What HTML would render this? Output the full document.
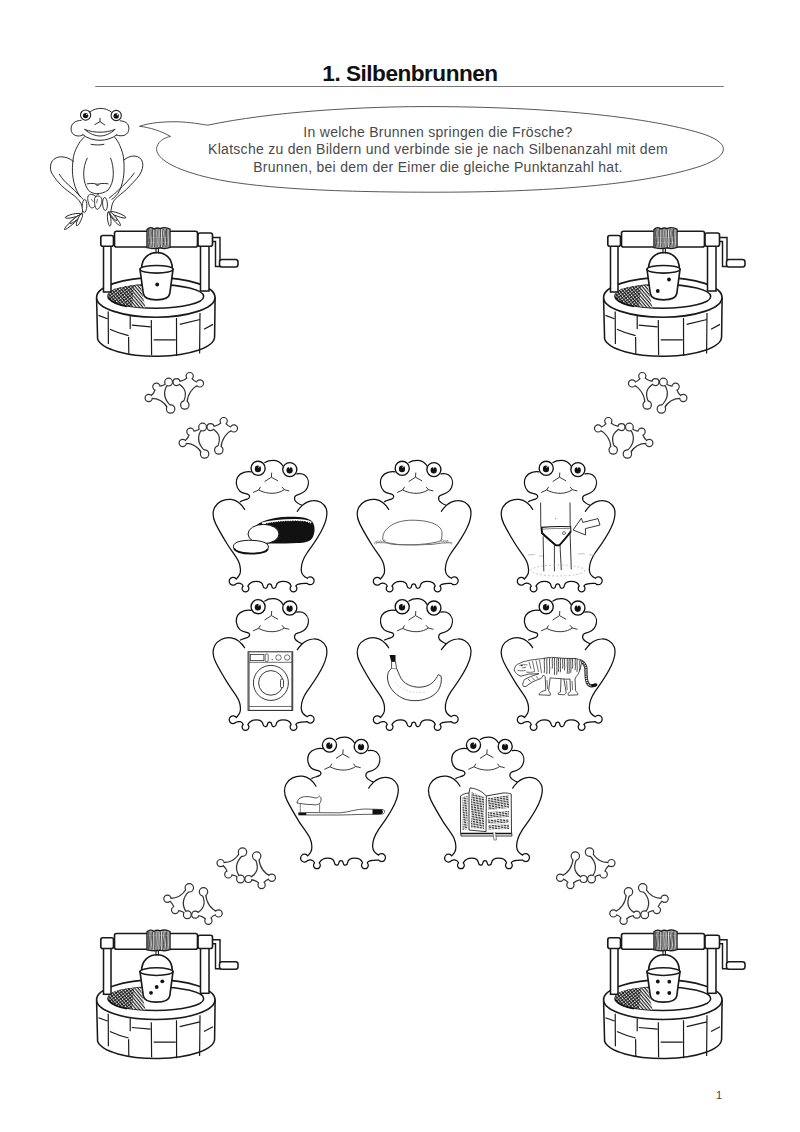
<!DOCTYPE html>
<html><head><meta charset="utf-8"><title>1. Silbenbrunnen</title>
<style>
html,body{margin:0;padding:0;background:#fff;}
body{width:800px;height:1132px;position:relative;overflow:hidden;font-family:"Liberation Sans",sans-serif;}
.t{position:absolute;white-space:nowrap;}
#title{left:0;width:820px;text-align:center;top:60.5px;font-weight:bold;font-size:22.6px;letter-spacing:-0.5px;color:#111;}
.bt{left:0;width:876px;text-align:center;font-size:14px;letter-spacing:0.28px;color:#4a4a4a;}
#pg{left:716px;top:1088.5px;font-size:11px;color:#444;}
svg{position:absolute;left:0;top:0;}
</style></head><body>
<svg width="800" height="1132" viewBox="0 0 800 1132">
<defs>
<pattern id="hatch" width="2.5" height="2.5" patternUnits="userSpaceOnUse" patternTransform="rotate(50)">
<rect width="2.5" height="2.5" fill="#fff"/><path d="M0,0.6 L2.5,0.6" stroke="#111" stroke-width="1.1"/></pattern>
<pattern id="hatch2" width="2.5" height="2.5" patternUnits="userSpaceOnUse" patternTransform="rotate(-38)">
<path d="M0,0.6 L2.5,0.6" stroke="#111" stroke-width="1.0"/></pattern>
<pattern id="txt" width="3" height="1.7" patternUnits="userSpaceOnUse" patternTransform="rotate(-8)"><rect width="3" height="1.7" fill="#fff"/><path d="M0,0.5 L2.3,0.5" stroke="#333" stroke-width="1.05"/></pattern>

<g id="well">
<path d="M96.6,299 L97.6,339 A58.7,19.5 0 0 0 214.6,337 L215.1,298 Z" fill="#fff" stroke="#1a1a1a" stroke-width="1.55"/>
<ellipse cx="155.8" cy="297.4" rx="59.2" ry="19.8" fill="#fff" stroke="#1a1a1a" stroke-width="1.65"/>
<ellipse cx="155.8" cy="296.4" rx="47.9" ry="11.8" fill="#fff" stroke="#1a1a1a" stroke-width="1.55"/>
<path d="M108.5,296 C108,290 118,286 140.5,285.2 L145.5,307.6 C128,307 110,303 108.5,296 Z" fill="url(#hatch)"/>
<path d="M108.5,296 C108,290 118,286 134,285.6 L132,306.6 C120,305 110,302 108.5,296 Z" fill="url(#hatch2)"/>
<path d="M109,297.5 C111,302 118,305 127,306.5" stroke="#111" stroke-width="1.6" fill="none"/>
<path d="M108.2,311.4 L108.4,343.9 M130.2,316 L130.2,329 M128.6,337 L128.8,353.6 M151.3,320 L151.6,355 M176.5,318 L176.6,356 M200,313 L199.6,353.6 M98.5,315.4 L107.4,318.7 M109.9,329.2 Q118,333 128.6,335.7 M131.8,325.2 L150.5,326.8 M153.7,339.8 L175.7,339.8 M179.7,324.4 L200,319.5 M204,329.2 L213,324.4" fill="none" stroke="#1a1a1a" stroke-width="1.2"/>
<rect x="103.5" y="244" width="7.5" height="48" fill="#fff" stroke="#1a1a1a" stroke-width="1.55"/>
<rect x="200.5" y="244" width="8.5" height="47" fill="#fff" stroke="#1a1a1a" stroke-width="1.55"/>
<path d="M212,237.5 L220,237.5 L220,266.5 L215.5,266.5 L215.5,241.5 L212,241.5" fill="#fff" stroke="#1a1a1a" stroke-width="1.45"/>
<rect x="219.5" y="259.5" width="18.5" height="7.5" rx="2.5" fill="#fff" stroke="#1a1a1a" stroke-width="1.55"/>
<rect x="114.5" y="231.2" width="83" height="15.8" rx="2" fill="#fff" stroke="#1a1a1a" stroke-width="1.65"/>
<rect x="100.8" y="235.5" width="12.7" height="10.7" rx="2" fill="#fff" stroke="#1a1a1a" stroke-width="1.65"/>
<rect x="198" y="233" width="14.5" height="13.2" rx="2" fill="#fff" stroke="#1a1a1a" stroke-width="1.65"/>
<path d="M147,229.5 C149,227.6 152,227.6 154,229 C156,227.8 158,227.6 160,228.6 C163,227.4 167,227.6 170,229.2 L170,247.4 C167,248.6 163,248.6 160,247.8 C157,248.8 152,248.6 147,247.6 Z" fill="#fff" stroke="#1a1a1a" stroke-width="1.4"/>
<path d="M148.3,229 C148.92,234 147.68,241 148.6,247.6 M149.69,229 C150.83,234 148.55,241 149.99,247.6 M151.03,229 C151.99,234 150.08,241 151.33,247.6 M152.55,229 C152.75,234 152.36,241 152.85,247.6 M154.16,229 C154.32,234 154,241 154.46,247.6 M155.72,229 C155.93,234 155.51,241 156.02,247.6 M157.07,229 C157.85,234 156.29,241 157.37,247.6 M158.87,229 C159.17,234 158.57,241 159.17,247.6 M160.3,229 C161.41,234 159.2,241 160.6,247.6 M162.17,229 C163.19,234 161.15,241 162.47,247.6 M163.71,229 C165.37,234 162.05,241 164.01,247.6 M165.04,229 C166.51,234 163.56,241 165.34,247.6 M166.51,229 C166.84,234 166.18,241 166.81,247.6 M167.88,229 C168.48,234 167.29,241 168.18,247.6" stroke="#222" stroke-width="0.85" fill="none"/>
<path d="M156,247.5 L156,253.5 M158.4,247.5 L158.4,253.5" stroke="#1a1a1a" stroke-width="1.1"/>
<path d="M141.6,268.5 C141.6,258 149,252.5 157,252.5 C165,252.5 172.3,258 172.3,268.5" fill="none" stroke="#1a1a1a" stroke-width="1.65"/>
<path d="M140,269.3 L143.3,293.5 C144,297.8 148.5,299.8 156.5,299.8 C164.5,299.8 169,297.8 169.8,293.5 L173,269.3 Z" fill="#fff" stroke="#1a1a1a" stroke-width="1.65"/>
<ellipse cx="156.5" cy="269.3" rx="16.5" ry="3.8" fill="#fff" stroke="#1a1a1a" stroke-width="1.55"/>
</g>
<g id="fp">
<path d="M-2.41,-1.21 C-6.81,-8.64 -13.31,-11.91 -21.9,-11 C-17.35,-13.42 -14.78,-17.18 -14.2,-22.3 C-9.29,-21.59 -5.22,-23.12 -2,-26.9 C-8.71,-18.29 -8.11,-10.22 -0.2,-2.69 L0,0 Z" fill="none" stroke="#333" stroke-width="2.4"/>
<circle cx="0" cy="0" r="3.6" fill="none" stroke="#333" stroke-width="2.4"/>
<circle cx="-21.9" cy="-11" r="3" fill="none" stroke="#333" stroke-width="2.4"/>
<circle cx="-14.2" cy="-22.3" r="3" fill="none" stroke="#333" stroke-width="2.4"/>
<circle cx="-2" cy="-26.9" r="3.3" fill="none" stroke="#333" stroke-width="2.4"/>
<path d="M-2.41,-1.21 C-6.81,-8.64 -13.31,-11.91 -21.9,-11 C-17.35,-13.42 -14.78,-17.18 -14.2,-22.3 C-9.29,-21.59 -5.22,-23.12 -2,-26.9 C-8.71,-18.29 -8.11,-10.22 -0.2,-2.69 L0,0 Z" fill="#fff" stroke="none"/>
<circle cx="0" cy="0" r="3.6" fill="#fff" stroke="none"/>
<circle cx="-21.9" cy="-11" r="3" fill="#fff" stroke="none"/>
<circle cx="-14.2" cy="-22.3" r="3" fill="#fff" stroke="none"/>
<circle cx="-2" cy="-26.9" r="3.3" fill="#fff" stroke="none"/>
<path d="M15.75,-6.21 C16.44,-15.35 20.96,-21.81 29.3,-25.6 C24.5,-26.08 21.1,-28.52 19.1,-32.9 C15.69,-28.72 11.29,-26.72 5.9,-26.9 C15.25,-22.61 17.71,-15.82 13.28,-6.54 L14.2,-4 Z" fill="none" stroke="#333" stroke-width="2.4"/>
<circle cx="14.2" cy="-4" r="3.6" fill="none" stroke="#333" stroke-width="2.4"/>
<circle cx="29.3" cy="-25.6" r="3" fill="none" stroke="#333" stroke-width="2.4"/>
<circle cx="19.1" cy="-32.9" r="3" fill="none" stroke="#333" stroke-width="2.4"/>
<circle cx="5.9" cy="-26.9" r="2.9" fill="none" stroke="#333" stroke-width="2.4"/>
<path d="M15.75,-6.21 C16.44,-15.35 20.96,-21.81 29.3,-25.6 C24.5,-26.08 21.1,-28.52 19.1,-32.9 C15.69,-28.72 11.29,-26.72 5.9,-26.9 C15.25,-22.61 17.71,-15.82 13.28,-6.54 L14.2,-4 Z" fill="#fff" stroke="none"/>
<circle cx="14.2" cy="-4" r="3.6" fill="#fff" stroke="none"/>
<circle cx="29.3" cy="-25.6" r="3" fill="#fff" stroke="none"/>
<circle cx="19.1" cy="-32.9" r="3" fill="#fff" stroke="none"/>
<circle cx="5.9" cy="-26.9" r="2.9" fill="#fff" stroke="none"/>
</g>
<g id="frog">
<path d="M251.1,471.9 C247,471.2 240.5,472.4 237.8,476.8 C235.3,481 236,487.6 239.9,491.2 C242.6,493.6 246.6,493.5 248.6,494.7 C250.4,496 249.4,498.4 247.4,499.1 C245.5,499.9 242.4,500.4 240.5,501.6 M244.6,509.4 C242,505 238,500.4 231,499.4 C224,498.6 217.4,502 214.6,507.4 C212.4,512 212.8,518 215.6,523.6 C219.5,531.5 223.5,538 227.5,544.5 C231.5,551 236,556 238.6,561.5 C240.8,566.5 240.9,572.3 239.6,574.6 C238.8,576.4 237.8,577.6 236.29,579.06 A3.9,3.9 0 1 0 236.09,583.81 C238.5,582.5 242.2,583 243.17,586.07 A3.4,3.4 0 1 0 247.83,586.07 C249.5,583.2 252.5,581.4 256.4,581.4 C260.4,581.4 262.6,583.5 263,585.8 C263.2,588.6 267,589.4 267.4,586.2 C267.6,584.8 268.3,583.8 269.6,583.8 C270.9,583.8 271.6,584.8 271.8,586.2 C272.2,589.4 276,588.6 276.2,585.8 C276.6,583.5 279.2,581.4 283.2,581.4 C287.2,581.4 290,582.5 291.17,586.07 A3.4,3.4 0 1 0 295.83,586.07 C297,583 303,583.5 307.21,583.31 A3.9,3.9 0 1 0 307.21,578.29 C303.8,576.6 301.6,574.5 301.3,570.5 C300.9,565 303.2,558.6 307,553 C312,546 318.5,537.5 323.2,527.2 C326.5,520 327.8,513.5 326.2,508.5 C323.8,503 318.5,500 313.2,500.6 C308.2,501 304.6,503.2 302,505.6 C299.6,508 298.4,509.6 297.3,511.3 M302,505.3 C299,504 296.2,502.6 294.9,500.2 C293.8,497.4 295.2,495.4 297.6,494.8 C301.5,493.8 305.6,491.8 307.4,487.6 C309.4,482.6 308.2,477.6 304.6,475 C302.4,473.4 299.6,473.4 296.8,473.8 M264.9,462.6 C267.5,460.6 271,460.2 274,460.3 C278,460.6 281,462.7 283,466 " fill="none" stroke="#111" stroke-width="1.25" stroke-linecap="round"/>
<circle cx="258.1" cy="468.3" r="7.05" fill="#fff" stroke="#111" stroke-width="1.35"/>
<ellipse cx="257.9" cy="468.9" rx="3.1" ry="3.3" fill="#111"/>
<path d="M258.4,465.4 q0.9,1.4 -0.3,2.6 q1.6,-0.2 1.9,-2.4 z" fill="#fff"/>
<circle cx="289.8" cy="469.6" r="7.05" fill="#fff" stroke="#111" stroke-width="1.35"/>
<ellipse cx="289.6" cy="470.2" rx="3.1" ry="3.3" fill="#111"/>
<path d="M288.7,466.7 l0.9,2.2 l0.9,-2.2 z" fill="#fff"/>
<path d="M271.7,472.6 L271.4,477.1 M264.6,481.6 L271.4,477.2 L278,480.9" fill="none" stroke="#222" stroke-width="0.9"/>
<path d="M253,492.5 L258.6,490 M260.5,486.9 L258.6,490 C263,492.4 268,493.4 273,493.3 C277.5,493.1 281,491.8 284.3,489.7 L282,486.9 M284.3,489.7 L289.3,490.9" fill="none" stroke="#222" stroke-width="0.9"/>
</g>
</defs>
<rect x="95.2" y="86" width="628.6" height="1" fill="#777"/>
<path d="M139.5,126.3 C150,122.6 165,121.5 178,121.8 C190,122.2 200,124 207.6,125.2 C270,112 360,106 440,106.6 C560,107.5 650,118 700,133 C730,142 732,155 701,166 C650,183 560,192 440,192.2 C330,192.4 240,188 195,174 C166,165.5 154,155 157,146.5 C159,140.5 165,137.6 170.5,136.4 C161,131 150,127.5 139.5,126.3 Z" fill="#fff" stroke="#444" stroke-width="0.9"/>
<g id="bigfrog"><path d="M73.2,161.2 C70,158.5 66,157 61.5,156.8 C56.5,156.8 52.5,159.2 51,163.5 C49.8,167.5 50.5,171.5 52.6,174.5 C55.5,179 58,182.2 61.5,185.5 C65.5,189.5 70,192.5 74.5,196 C78.2,199 81,202.5 82.2,206.5 C83,209.5 82.5,212 81.8,214 M59.4,174.4 C62,178.5 65,182 68.6,184.9 C72.5,188.5 77,192.5 80.4,196.7 M123.8,160 C127,157.5 130.5,156 134.2,156 C138.5,156.2 141.6,158.5 142.6,162.5 C143.4,166.5 142,171 139.5,175 C136.5,179.5 131,184.5 126.4,189.5 C122,193.5 118,196 115.9,198.5 C113.5,201 112.2,203.5 111.8,206 C111.2,209 110.8,211.5 110.6,213.8 M134.2,173.1 C130,179 124,185 118.5,190.1 C115,193.5 111.5,196 109.3,198 " fill="none" stroke="#222" stroke-width="0.95" stroke-linecap="round" stroke-linejoin="round"/>
<path d="M84.4,137 C81,140 79,143 77.8,145.5 C75,150.5 73.4,155 73,160 C72.4,166 72.2,170 72.6,174.4 C73.2,180.5 74.5,185.5 76.5,190.1 C78.5,194.5 80.6,197.2 83.1,199.3 M114.6,137 C117,140 118.6,142.5 119.8,145.5 C122,150.5 123.4,155 123.8,160 C124.2,166 124.2,170 123.8,174.4 C123.2,180.5 121.8,185.5 119.8,190.1 C117.6,194.5 114.8,197.5 111.9,199.3 M87.2,158.2 C85,162.5 83.6,168 83.7,174.4 C83.8,181 85.5,186.5 88.3,190.1 C90.5,192.5 93.5,193.6 96.5,193.7 C100.5,193.8 105,192.5 108,190.1 C111,186.5 113.2,181 113.3,174.4 C113.4,168 112.4,162.5 110.6,158.2 M87.2,183.8 C92,183 95,183.6 97.4,184.3 C100,183.6 103,183 108,183.8 M95.8,184.6 C96.5,186 98.4,186 99.2,184.6 M91,144.3 C95,145.2 100,145.2 104,144.3 " fill="none" stroke="#222" stroke-width="0.95" stroke-linecap="round" stroke-linejoin="round"/>
<path d="M90.4,111.6 C93.5,109.3 97.5,108.3 100.9,108.4 C104.8,108.5 108.6,109.8 111.4,112 M81.2,120.3 C78.5,120.3 75.8,121.2 73.5,123 C71.2,125 70.6,128.2 71.4,131.4 C72.4,134.3 75,135.8 78,136 C80,136.1 81.8,135.5 83,134.8 M120.1,120.8 C123,120.9 125.8,121.8 127.6,124 C129.3,126.3 129.3,130 127.8,132.6 C126.4,134.8 123.8,135.8 121,135.8 C119,135.7 117.6,135.4 116.6,135 M82.8,134.6 C87,138.3 93.5,140.3 100,140.3 C106,140.3 112.5,138.3 116.8,134.8 M84.6,129.4 C90,131.5 95,132.2 100,132.2 C105,132.2 110,131.5 115,129.4 M85.6,130.2 C89.5,133.5 95,136 100,136 C105,136 110.5,133.5 114.2,130.2 M100,118.3 L100,121.3 M94.8,124.6 L100,121.6 L104.8,125 " fill="none" stroke="#222" stroke-width="0.95" stroke-linecap="round" stroke-linejoin="round"/>
<circle cx="85.6" cy="115.1" r="5.1" fill="#fff" stroke="#222" stroke-width="1.1"/>
<circle cx="85.6" cy="115.6" r="2.7" fill="#111"/>
<circle cx="86.8" cy="114.39999999999999" r="0.7" fill="#fff"/>
<circle cx="116.2" cy="115.5" r="5.1" fill="#fff" stroke="#222" stroke-width="1.1"/>
<circle cx="116.2" cy="116.0" r="2.7" fill="#111"/>
<circle cx="117.4" cy="114.8" r="0.7" fill="#fff"/>
<ellipse cx="84.50" cy="206.00" rx="6.51" ry="2.30" transform="rotate(92.6 84.50 206.00)" fill="#fff" stroke="#222" stroke-width="0.9"/>
<ellipse cx="105.00" cy="204.00" rx="6.51" ry="2.40" transform="rotate(86.5 105.00 204.00)" fill="#fff" stroke="#222" stroke-width="0.9"/>
<path d="M88,196 C89.5,193.5 94,194 96,197 C97.5,199.5 96.5,204 94.5,206.5 C93,208.5 90.5,208.3 89.5,206 C88.5,203.5 87,199 88,196 Z" fill="#fff" stroke="#222" stroke-width="0.9"/>
<path d="M94.5,198.5 C95.5,196 98.5,195.2 100.6,197 C102.6,198.8 102,203 100.5,206 C99.2,208.6 97.6,210 96.4,209 C95,207.6 94.6,204 94.6,201.5 Z" fill="#fff" stroke="#222" stroke-width="0.9"/>
<path d="M95.5,197.2 C95.8,194.8 97.5,193.8 99,194.6 M91,199 L93.5,202 M97.5,199 L96.5,203" fill="none" stroke="#333" stroke-width="0.7"/>
<ellipse cx="73.25" cy="221.50" rx="11.86" ry="1.65" transform="rotate(137.6 73.25 221.50)" fill="#fff" stroke="#222" stroke-width="0.9"/>
<ellipse cx="72.90" cy="215.80" rx="7.81" ry="1.65" transform="rotate(166.7 72.90 215.80)" fill="#fff" stroke="#222" stroke-width="0.9"/>
<ellipse cx="75.75" cy="219.00" rx="7.30" ry="1.30" transform="rotate(142.0 75.75 219.00)" fill="#fff" stroke="#222" stroke-width="0.9"/>
<ellipse cx="79.40" cy="219.75" rx="6.31" ry="1.65" transform="rotate(114.3 79.40 219.75)" fill="#fff" stroke="#222" stroke-width="0.9"/>
<ellipse cx="109.20" cy="218.85" rx="7.39" ry="1.65" transform="rotate(83.8 109.20 218.85)" fill="#fff" stroke="#222" stroke-width="0.9"/>
<ellipse cx="114.70" cy="218.75" rx="8.83" ry="1.65" transform="rotate(49.8 114.70 218.75)" fill="#fff" stroke="#222" stroke-width="0.9"/>
<ellipse cx="118.15" cy="214.80" rx="8.15" ry="1.65" transform="rotate(20.1 118.15 214.80)" fill="#fff" stroke="#222" stroke-width="0.9"/>
<ellipse cx="113.40" cy="216.35" rx="5.49" ry="1.20" transform="rotate(49.1 113.40 216.35)" fill="#fff" stroke="#222" stroke-width="0.9"/></g>
<use href="#well" transform="translate(0,0)"/>
<use href="#well" transform="translate(507,0)"/>
<use href="#well" transform="translate(0,702.3)"/>
<use href="#well" transform="translate(507,702.3)"/>
<circle cx="157.2" cy="284.5" r="1.9" fill="#111"/>
<circle cx="669" cy="279.5" r="1.9" fill="#111"/>
<circle cx="657.8" cy="291" r="1.9" fill="#111"/>
<circle cx="162.3" cy="981.3" r="1.9" fill="#111"/>
<circle cx="156.7" cy="987" r="1.9" fill="#111"/>
<circle cx="151" cy="992.8" r="1.9" fill="#111"/>
<circle cx="657.8" cy="981.5" r="1.9" fill="#111"/>
<circle cx="669.3" cy="981.7" r="1.9" fill="#111"/>
<circle cx="657.8" cy="992.8" r="1.9" fill="#111"/>
<circle cx="669.3" cy="993" r="1.9" fill="#111"/>
<use href="#fp" transform="translate(170.6,409)"/>
<use href="#fp" transform="translate(204.6,454)"/>
<use href="#fp" transform="translate(661.4,409) scale(-1,1)"/>
<use href="#fp" transform="translate(627.4,454) scale(-1,1)"/>
<use href="#fp" transform="translate(242.5,852.1) scale(1,-1)"/>
<use href="#fp" transform="translate(189.3,887.8) scale(1,-1)"/>
<use href="#fp" transform="translate(589.5,852.1) scale(-1,-1)"/>
<use href="#fp" transform="translate(642.7,887.8) scale(-1,-1)"/>
<use href="#frog" transform="translate(0,0)"/>
<use href="#frog" transform="translate(144.1,0)"/>
<use href="#frog" transform="translate(288.1,0)"/>
<use href="#frog" transform="translate(0,138.4)"/>
<use href="#frog" transform="translate(144.1,138.4)"/>
<use href="#frog" transform="translate(288.1,138.4)"/>
<use href="#frog" transform="translate(71.4,276.8)"/>
<use href="#frog" transform="translate(215.4,276.8)"/>
<g>
<path d="M254,528 C259,521 272,517.2 288,516.8 C300,516.6 309,517.5 312.5,522 C315.5,526 315.2,534 312,538.5 C309,542 304,542.8 298,543 C285,543.6 272,543.8 262,543.4 Z" fill="#111"/>
<path d="M262,523.6 C272,520.6 284,520 296,520 C303,520 307.5,520.6 311.2,522.6" stroke="#fff" stroke-width="2.2" fill="none"/>
<path d="M266,524 C276,521.6 286,521.2 296,521.2 C303,521.2 307.5,521.8 311,523.6" stroke="#111" stroke-width="1.2" stroke-dasharray="1.3 1.1" fill="none"/>
<ellipse cx="263.5" cy="534" rx="15.5" ry="9.6" fill="#fff" stroke="#111" stroke-width="1"/>
<path d="M233.4,546.5 C233.4,541 245,540.2 251,540.3 C259,540.5 268.6,542 268.4,547 C268.2,551 262,553.6 251,553.4 C240,553.2 233.4,551 233.4,546.5 Z" fill="#fff" stroke="#111" stroke-width="1"/>
<path d="M234,548.5 C236,552.5 244,553.5 251,553.6 C259,553.7 266,552.6 268,549" stroke="#111" stroke-width="1.8" fill="none"/>
</g>
<path d="M383,540 C381,531 392,520.2 412,520.2 C432,520.2 442,526 442,533 C442,537 441.5,539.5 440.5,541 C430,544.5 410,545.5 395,544.5 C389,544 385,542.5 383,540 Z" fill="#fff" stroke="#555" stroke-width="0.9"/>
<path d="M376.5,542.6 Q390,542.5 398,544.5 Q415,545.6 432,544.4 Q442,542.6 451,542.6" stroke="#666" stroke-width="0.9" fill="none"/>
<g fill="#fff" stroke="#666" stroke-width="0.5"><circle cx="380.43" cy="541.81" r="1.06"/><circle cx="380.59" cy="541.67" r="0.89"/><circle cx="377.22" cy="541.68" r="0.91"/><circle cx="384.52" cy="540.55" r="0.75"/><circle cx="376.09" cy="542.49" r="0.95"/><circle cx="375.5" cy="542.95" r="1.08"/><circle cx="382.85" cy="541.96" r="0.68"/><circle cx="439.18" cy="541.73" r="0.63"/><circle cx="441.28" cy="540.95" r="0.62"/><circle cx="444.57" cy="541.49" r="1.02"/><circle cx="445.23" cy="542.03" r="0.85"/><circle cx="446.95" cy="541.53" r="0.74"/><circle cx="450.97" cy="542.99" r="1.02"/><circle cx="447.49" cy="541.15" r="0.71"/><circle cx="442.47" cy="540.49" r="0.98"/></g>
<path d="M540.6,502.5 L540.8,527.5 M570,502.5 L570.2,528" stroke="#222" stroke-width="0.9" fill="none"/>
<circle cx="555.6" cy="518.8" r="0.5" fill="#444"/>
<path d="M541.4,527.4 Q556,526 570.7,526.8 L570.9,531.5 C567,536.5 563,541.5 559.2,545.4 L556,545.4 C551.5,541.5 546,537 542,533 Z" fill="#fff" stroke="#111" stroke-width="1.1"/>
<path d="M541.5,527.8 L542,533 C546,537 551.5,541.5 556,545.4 L559.2,545.4 C563,541.5 567,536.5 570.9,531.5" stroke="#111" stroke-width="1.9" fill="none"/>
<path d="M541.8,529.2 Q556,528 570.6,528.6" stroke="#333" stroke-width="0.6" fill="none"/>
<circle cx="564" cy="533.1" r="1.5" fill="none" stroke="#333" stroke-width="0.7"/>
<path d="M543.1,536.3 L543.8,571.3 M554.4,545 L554.4,571.3 M560,545 L561.3,570 M570,531.3 L571.3,569.4" stroke="#222" stroke-width="0.9" fill="none"/>
<ellipse cx="558" cy="570.5" rx="27" ry="5.5" fill="none" stroke="#aaa" stroke-width="0.7" stroke-dasharray="2 2"/>
<path d="M528,555 L535,554.5 M539,556 L543,555.8 M578,554 L585,553.6 M589,554.8 L595,555" stroke="#aaa" stroke-width="0.7" fill="none"/>
<path d="M573.1,530 L581.3,518.2 L582.8,522.4 L598,518.6 L600,525 L585.4,528.6 L585.6,535 Z" fill="#fff" stroke="#222" stroke-width="0.9" stroke-linejoin="round"/>
<rect x="248.1" y="651.8" width="44.6" height="58.6" fill="#fff" stroke="#222" stroke-width="1"/>
<path d="M249,662.3 L292,662.3 M249,706.5 L292,706.5 M249.2,652.5 L249.2,710 M291.7,652.5 L291.7,710" stroke="#333" stroke-width="0.7" fill="none"/>
<rect x="250.3" y="654.4" width="13.6" height="6.2" fill="none" stroke="#333" stroke-width="0.8"/>
<rect x="265.2" y="654" width="3" height="7.4" rx="1" fill="none" stroke="#333" stroke-width="0.7"/>
<circle cx="272.2" cy="659.7" r="0.6" fill="#333"/>
<circle cx="278.5" cy="657.5" r="2.7" fill="none" stroke="#333" stroke-width="0.7"/>
<circle cx="287.2" cy="657.5" r="2.7" fill="none" stroke="#333" stroke-width="0.7"/>
<circle cx="270.9" cy="682.9" r="17.5" fill="none" stroke="#222" stroke-width="0.9"/>
<circle cx="270.9" cy="682.9" r="12.3" fill="none" stroke="#222" stroke-width="0.9"/>
<rect x="280.5" y="679" width="3" height="8.7" rx="1.4" fill="#fff" stroke="#222" stroke-width="0.8"/>
<path d="M391.5,668.5 C388.5,670.5 387.3,674 387.5,678 C388,686 393,693.5 403,698.5 C412,702 424,701.5 433,695.5 C439.5,691 442,684 441.2,676.3 L438.3,674.5 C436,679.5 432.5,684 426,686.2 C418,688.6 409,686.6 403.5,681.5 C400,678 399,673.5 396.6,668.5 Z" fill="#fff" stroke="#222" stroke-width="0.9"/>
<path d="M391.6,668.6 L391.6,661.5 L395.5,661.5 L396.5,668.6" fill="#fff" stroke="#222" stroke-width="0.8"/>
<path d="M389.5,655 L395.5,655 L395.5,661.5 L391.2,661.5 Z" fill="#111"/>
<path d="M395,682 C400,690 412,694 425,692" stroke="#bbb" stroke-width="0.7" fill="none" stroke-dasharray="1.5 2"/>
<path d="M580.6,661 C584.5,663 586,666 586,670 C586,674 585.8,679 587.5,683 C589,686 592,686.3 595.2,685" stroke="#222" stroke-width="3.2" fill="none" stroke-linecap="round"/>
<path d="M580.6,661 C584.5,663 586,666 586,670 C586,674 585.8,679 587.5,683 C589,686 592,686.3 595.2,685" stroke="#fff" stroke-width="1.6" fill="none" stroke-dasharray="1 1.1"/>
<path d="M592.6,685.6 L596,684.8" stroke="#111" stroke-width="2.8" stroke-linecap="round"/>
<path d="M563.8,678.4 L566,691.4 C566.5,693 565.5,694.8 563.5,694.8 L558.5,694.4 C557.5,693.4 558.5,692.4 560.5,692 L561,679" fill="#fff" stroke="#222" stroke-width="0.8" stroke-linejoin="round"/>
<path d="M514.8,667.8 C515.5,665.5 517,664.2 518.8,663.8 C521.5,662.2 524,661.4 526.6,661 C529.5,660.2 532,659.8 534.5,659.6 C537,659.2 539,658.9 541.2,658.8 C545,658 548,657.5 551.4,657.4 C555,657.4 559,657.9 562.6,658.2 C567,658.5 571,658.4 575,658.5 C577.5,658.8 579.5,659.5 580.6,660.4 C581.8,661.8 581.8,663 581.2,664.4 C580.6,667 580.3,669 579.5,671.1 C578.6,673.5 577.4,675.4 576.1,676.8 L575,679 L575.6,690.8 C576.5,692 578.5,693.2 577.8,694.8 L568.3,695.3 C567.5,694 568.6,692.3 570.5,691.4 L570,679 C566,679.6 563.5,678.8 560,678.6 C556,678.3 553,678.2 550.2,677.9 L548.6,690.8 C549.6,692.2 551,693.6 550.2,695.3 L539,694.8 C538.8,693.2 541.5,691.2 545.8,690.3 L545.2,676.8 C544.5,676 543.8,675.5 543.5,675 C542.5,676.6 541.8,677.6 541.2,678.4 C536,680 530,683 526.2,686.3 C524.8,687 522.4,686.6 522.7,684.6 C523.2,682 524,680.6 524.4,679.6 C529,677 535,674.8 539,673.6 C535,674 531.5,674 528.9,674 C526,674.6 523.5,675.6 521,676.2 C519.6,676 518.4,675.2 517.6,674.5 C516.6,673.8 516,673 515.4,672.2 C514.6,671.2 514.2,670.5 514.2,670 C514.2,669.2 514.4,668.4 514.8,667.8 Z" fill="#fff" stroke="#222" stroke-width="0.8" stroke-linejoin="round"/>
<path d="M544.5,658 C543.7,663 545.1,667.86 544.2,672.86 M546.99,658 C546.19,663 547.59,669.07 546.69,674.07 M549.72,658 C548.92,663 550.32,668.68 549.42,673.68 M552.43,658 C551.63,663 553.03,663.7 552.13,668.7 M554.59,658 C553.79,663 555.19,670.1 554.29,675.1 M556.97,658 C556.17,663 557.57,669.81 556.67,674.81 M558.7,658 C557.9,663 559.3,666.78 558.4,671.78 M560.6,658 C559.8,663 561.2,667.31 560.3,672.31 M562.89,658 C562.09,663 563.49,663.59 562.59,668.59 M564.75,658 C563.95,663 565.35,665.46 564.45,670.46 M567.45,658 C566.65,663 568.05,668.86 567.15,673.86 M569.24,658 C568.44,663 569.84,669.08 568.94,674.08 M571,658 C570.2,663 571.6,667.82 570.7,672.82 M572.76,658 C571.96,663 573.36,663.51 572.46,668.51 M575.4,658 C574.6,663 576,664.97 575.1,669.97 M577.26,658.76 C576.46,663.76 577.86,667 576.96,672 M579.91,660.34 C579.11,665.34 580.51,665.53 579.61,670.53" stroke="#222" stroke-width="0.8" fill="none"/>
<path d="M547,680 L547.6,689 M566.5,680.5 L567.2,690 M572,681 L572.6,690 M528,679 L530.5,681.5 M532,677.5 L534.5,680 M536,676.2 L538.2,678.8" stroke="#333" stroke-width="0.7" fill="none"/>
<path d="M519.5,665.5 C522,664.6 525,664.4 527.5,665 M522,668 L526,667.2 M517.5,670.3 C520,671 523,671 525.5,670.3 M529,662 L531,669 M532.5,661.2 L534.5,671 M536,660.4 L538.5,672 M539.5,660 L541.5,673 M526,672 C529,672.6 532,672.4 535,671.5" stroke="#333" stroke-width="0.7" fill="none"/>
<circle cx="521.8" cy="665.6" r="0.8" fill="#111"/>
<path d="M298.7,812.5 L340,812.8 C350,812 356,809 365,809 L383,809.5 C385,810 385,813 383,814 L365,814.4 C355,814.4 348,815 340,815 L298.7,815 Z" fill="#fff" stroke="#333" stroke-width="0.8"/>
<path d="M372.5,809.3 L381,809.5 C383.5,810 383.5,813.5 381,814.2 L372.5,814.4 Z" fill="#111"/>
<path d="M298.7,813 L306.3,813 L306.3,815 L298.7,815 Z" fill="#111"/>
<path d="M300.3,803.5 L300.3,812.2 M319.6,803.5 L319.6,812.2" fill="none" stroke="#444" stroke-width="0.7"/>
<path d="M296.9,803 C297.5,800 299,798.3 302,797.2 C305,796.2 309,796.6 312,797.2 C314.5,797.7 316,798.4 317.5,797.6 C318.5,797 319,796.2 319.4,796.1 C320.8,796.8 321.4,798.5 321,800 C320.7,801.8 320.3,803 319.6,803.5 C318,804.6 316,805 314.2,804.8 C312,804.6 310,804.4 307.5,804.4 C305,804.3 302.5,803.7 300.3,803.5 C299,803.3 297.8,803.2 296.9,803 Z" fill="#fff" stroke="#333" stroke-width="0.85"/>
<path d="M460.5,832 L460.5,796 C463,794 466,793.2 469,793 L486.3,796 L503,793 C506,792.8 509,793.2 511.2,794 L511.5,832 L512,836 L461,836 Z" fill="#fff" stroke="#222" stroke-width="0.9"/>
<path d="M469,793 L469,830 L486,831.6 L486.3,796 C482,791 476,788.5 470,787.9 Z" fill="#fff" stroke="#222" stroke-width="0.9"/>
<path d="M461,833.5 L511.5,833.5" stroke="#111" stroke-width="1.5"/>
<path d="M492.9,832 L494,840 L496.4,840 L495.5,832" fill="#fff" stroke="#333" stroke-width="0.6"/>
<path d="M471,792 L484,797 L484,829 L471,828 Z" fill="url(#txt)"/>
<path d="M462.5,797 L467.5,796 L467.5,829 L462.5,830 Z" fill="url(#txt)"/>
<path d="M488,798 L509,795 L509,808 L488,810 Z M488,812 L509,811 L509,817 L488,818 Z M488,819.5 L509,819 L509,823 L488,823.5 Z M488,825 L509,824.5 L509,829 L488,829.5 Z" fill="url(#txt)"/>
</svg>
<div class="t" id="title">1. Silbenbrunnen</div>
<div class="t bt" style="top:124px">In welche Brunnen springen die Frösche?</div>
<div class="t bt" style="top:141px">Klatsche zu den Bildern und verbinde sie je nach Silbenanzahl mit dem</div>
<div class="t bt" style="top:158.6px">Brunnen, bei dem der Eimer die gleiche Punktanzahl hat.</div>
<div class="t" id="pg">1</div>
</body></html>
